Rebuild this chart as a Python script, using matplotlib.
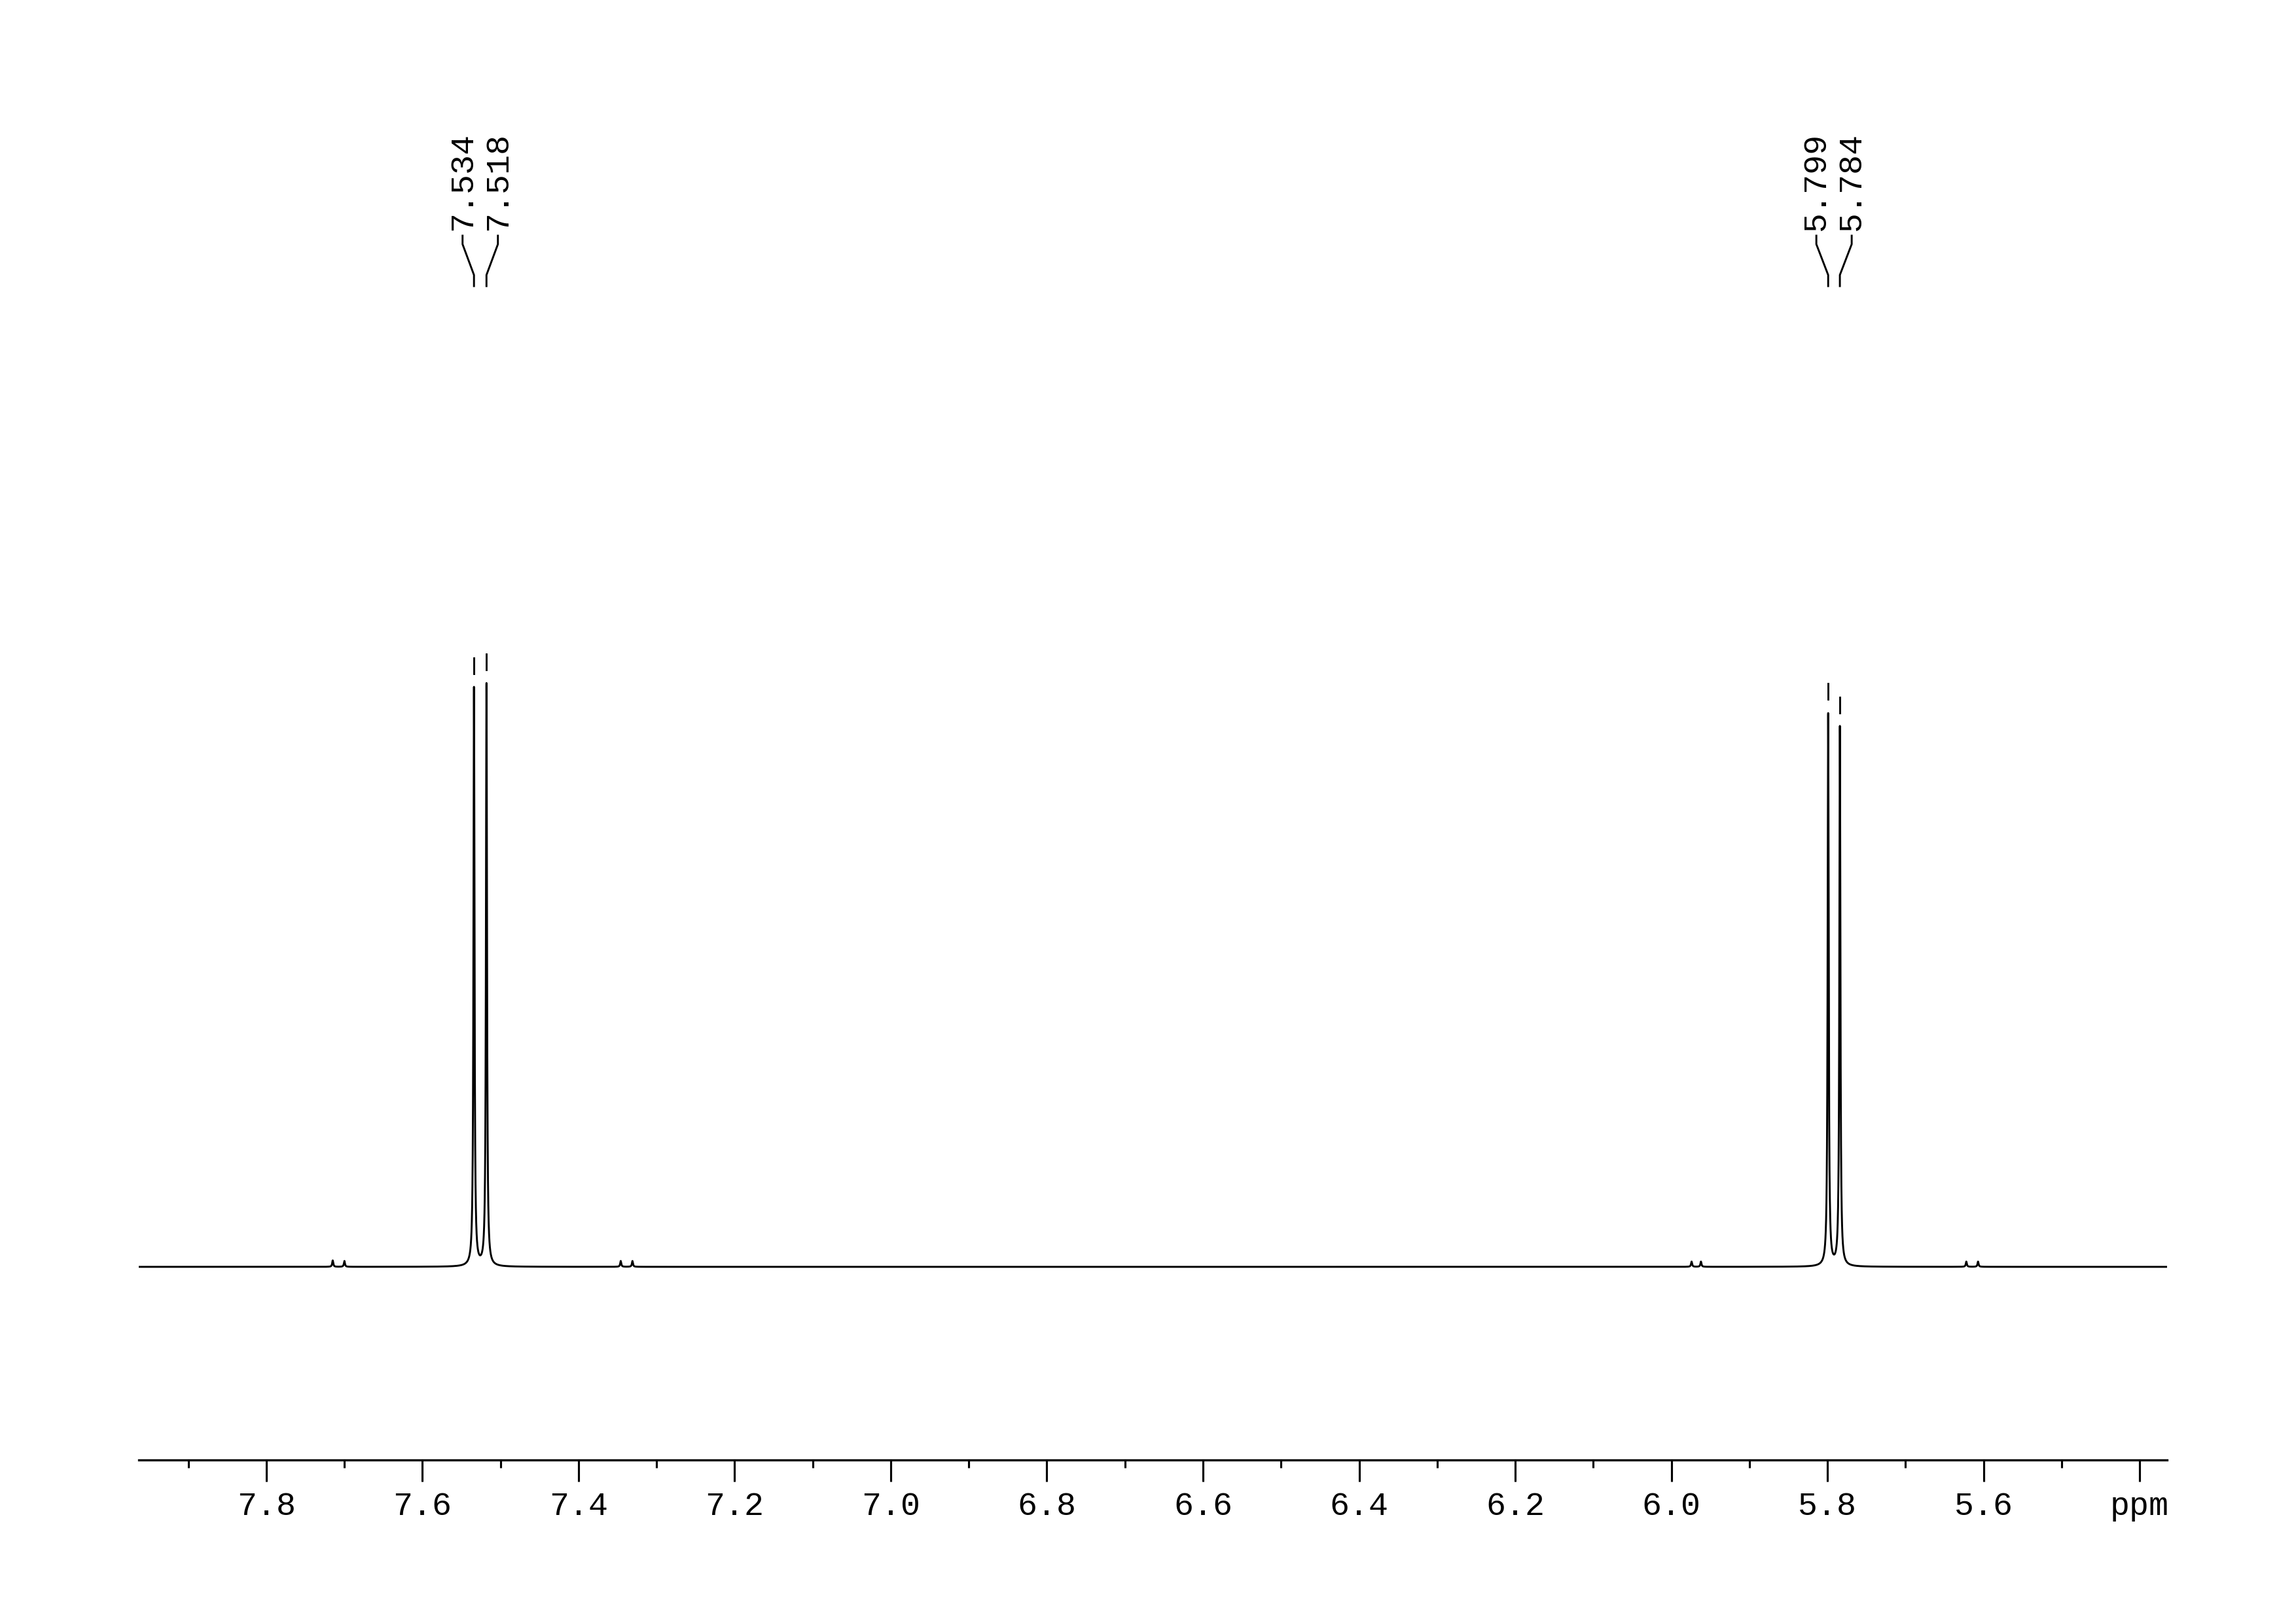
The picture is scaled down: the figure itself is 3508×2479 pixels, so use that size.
"""1H NMR spectrum excerpt (7.96 - 5.36 ppm), two doublets with peak picking."""
import numpy as np
import matplotlib
matplotlib.use("Agg")
import matplotlib.pyplot as plt

W, H = 3508, 2479
DPI = 300
FONT = "Liberation Mono"

# spectral window (ppm, left -> right)
PPM_LEFT = 7.9635
PPM_RIGHT = 5.3648

# main doublet lines: position (ppm), relative height (tallest = 100)
peak_ppm = [7.534, 7.518, 5.799, 5.784]
peak_height = [99.3, 100.0, 94.9, 92.6]
peak_labels = ["7.534", "7.518", "5.799", "5.784"]

# small satellite lines
sat_ppm = [7.715, 7.700, 7.346, 7.331, 5.974, 5.962, 5.622, 5.607]
sat_height = [1.1, 1.0, 1.0, 1.0, 0.9, 0.9, 0.9, 0.9]

LINE_HWHM = 0.0008  # ppm

# axis ticks
major_ticks = [7.8, 7.6, 7.4, 7.2, 7.0, 6.8, 6.6, 6.4, 6.2, 6.0, 5.8, 5.6, 5.4]
major_labels = ["7.8", "7.6", "7.4", "7.2", "7.0", "6.8", "6.6", "6.4", "6.2",
                "6.0", "5.8", "5.6", "ppm"]
minor_ticks = [7.9, 7.7, 7.5, 7.3, 7.1, 6.9, 6.7, 6.5, 6.3, 6.1, 5.9, 5.7, 5.5]

# layout in reference pixels
AX_LEFT, AX_RIGHT = 212, 3311
AX_BOTTOM = 2230          # axis line
BASE_PX = 1935            # spectrum baseline
PX_PER_UNIT = 8.9         # intensity unit -> pixels
PX_PER_PPM = (AX_RIGHT - AX_LEFT) / (PPM_LEFT - PPM_RIGHT)


def ydata(py):
    return (BASE_PX - py) / PX_PER_UNIT


def spectrum(x):
    y = np.zeros_like(x)
    for p, h in zip(peak_ppm + sat_ppm, peak_height + sat_height):
        y += h / (1.0 + ((x - p) / LINE_HWHM) ** 2)
    return y


fig = plt.figure(figsize=(W / DPI, H / DPI), dpi=DPI)
ax = fig.add_axes([AX_LEFT / W, 1 - AX_BOTTOM / H,
                   (AX_RIGHT - AX_LEFT) / W, AX_BOTTOM / H])

x = np.linspace(PPM_LEFT, PPM_RIGHT, 30000)
ax.plot(x, spectrum(x), color="black", lw=0.7)

ax.set_xlim(PPM_LEFT, PPM_RIGHT)
ax.set_ylim(ydata(AX_BOTTOM), ydata(0))

for s in ["top", "left", "right"]:
    ax.spines[s].set_visible(False)
ax.spines["bottom"].set_linewidth(0.8)
ax.set_yticks([])
ax.set_xticks(major_ticks)
ax.set_xticklabels(major_labels, fontfamily=FONT, fontsize=12)
ax.set_xticks(minor_ticks, minor=True)
ax.tick_params(axis="x", which="major", direction="out", length=7.9,
               width=0.75, pad=3.5, colors="black")
ax.tick_params(axis="x", which="minor", direction="out", length=2.9,
               width=0.75)

# peak picking: markers, leaders and labels
pairs = [(0, 1), (2, 3)]
label_off = 27 / PX_PER_PPM
for i, j in pairs:
    center = (peak_ppm[i] + peak_ppm[j]) / 2
    for k, lx in ((i, center + label_off), (j, center - label_off)):
        p, h = peak_ppm[k], peak_height[k]
        top_px = BASE_PX - h * PX_PER_UNIT
        ax.plot([p, p], [ydata(top_px - 22), ydata(top_px - 46)],
                color="black", lw=0.7)
        ax.plot([lx, lx, p, p],
                [ydata(360), ydata(373), ydata(420), ydata(437)],
                color="black", lw=0.7)
        ax.text(lx, ydata(352), peak_labels[k], rotation=90, ha="center",
                va="bottom", fontfamily=FONT, fontsize=12)

fig.savefig("out.png", dpi=DPI, facecolor="white")
